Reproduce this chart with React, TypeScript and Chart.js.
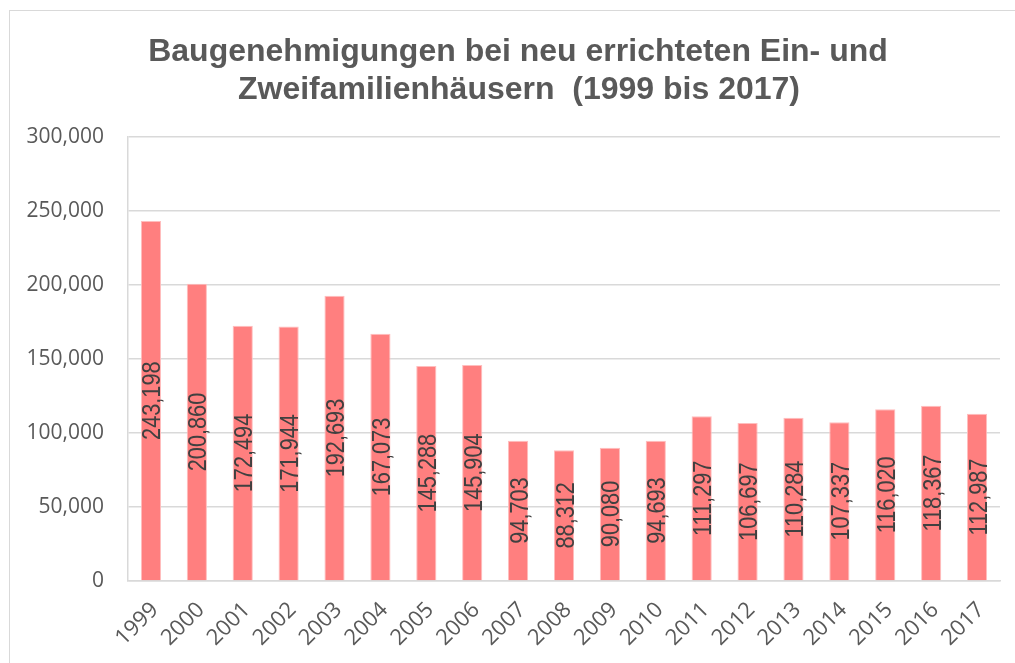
import React, { useEffect, useRef } from "react";
import { Chart, registerables } from "chart.js";

Chart.register(...registerables);

const years: string[] = [
  "1999", "2000", "2001", "2002", "2003", "2004", "2005", "2006", "2007", "2008",
  "2009", "2010", "2011", "2012", "2013", "2014", "2015", "2016", "2017",
];

const permits: number[] = [
  243198, 200860, 172494, 171944, 192693, 167073, 145288, 145904, 94703, 88312,
  90080, 94693, 111297, 106697, 110284, 107337, 116020, 118367, 112987,
];

const titleLines: string[] = [
  "Baugenehmigungen bei neu errichteten Ein- und",
  "Zweifamilienhäusern  (1999 bis 2017)",
];

const yMin = 0;
const yMax = 300000;
const yStep = 50000;

const fmt = (v: number) => Math.round(v).toLocaleString("en-US");

const titlePlugin = {
  id: "customTitle",
  afterDraw(chart: any) {
    const ctx = chart.ctx;
    ctx.save();
    ctx.font = 'bold 32px "Liberation Sans", Arial, sans-serif';
    ctx.fillStyle = "#595959";
    ctx.textAlign = "center";
    ctx.textBaseline = "alphabetic";
    ctx.fillText(titleLines[0], 518, 61);
    ctx.fillText(titleLines[1], 519, 99);
    ctx.restore();
  },
};

const barLabelPlugin = {
  id: "barLabels",
  afterDatasetsDraw(chart: any) {
    const ctx = chart.ctx;
    const meta = chart.getDatasetMeta(0);
    const values = chart.data.datasets[0].data as number[];
    meta.data.forEach((bar: any, i: number) => {
      const p = bar.getProps(["x", "y", "base"], true);
      const cy = (p.y + p.base) / 2;
      ctx.save();
      ctx.translate(p.x, cy);
      ctx.rotate(-Math.PI / 2);
      ctx.scale(0.82, 1);
      ctx.font = '26.5px "Liberation Sans", Arial, sans-serif';
      ctx.fillStyle = "#404040";
      ctx.textAlign = "center";
      ctx.textBaseline = "alphabetic";
      ctx.fillText(fmt(values[i]), 0, 9.5);
      ctx.restore();
    });
  },
};

export default function App() {
  const canvasRef = useRef<HTMLCanvasElement | null>(null);

  useEffect(() => {
    if (!canvasRef.current) return;
    const chart = new Chart(canvasRef.current, {
      type: "bar",
      data: {
        labels: years,
        datasets: [
          {
            data: permits,
            backgroundColor: "rgb(255,127,127)",
            borderColor: "rgba(255,190,190,1)",
            borderWidth: 1,
            barPercentage: 0.44,
            categoryPercentage: 1,
          },
        ],
      },
      options: {
        responsive: false,
        animation: false,
        layout: { padding: { top: 137, right: 15, left: 0, bottom: 0 } },
        plugins: {
          legend: { display: false },
          title: { display: false },
          tooltip: { enabled: false },
        },
        scales: {
          x: {
            afterFit(scale: any) {
              scale.height = 82;
            },
            grid: { display: false },
            border: { display: true, color: "#d9d9d9", width: 1.5 },
            ticks: {
              autoSkip: false,
              minRotation: 45,
              maxRotation: 45,
              padding: 8,
              labelOffset: 4,
              color: "#595959",
              font: { family: '"Open Sans", sans-serif', size: 22 },
            },
          },
          y: {
            min: yMin,
            max: yMax,
            afterFit(scale: any) {
              scale.width = 128;
            },
            grid: { color: "#d9d9d9", lineWidth: 1.5, drawTicks: false },
            border: { display: true, color: "#d9d9d9", width: 1.5 },
            ticks: {
              stepSize: yStep,
              padding: 24,
              color: "#595959",
              font: { family: '"Open Sans", sans-serif', size: 21 },
              callback: (v: any) => fmt(Number(v)),
            },
          },
        },
      },
      plugins: [titlePlugin, barLabelPlugin],
    });
    return () => chart.destroy();
  }, []);

  return (
    <>
      <div
        style={{
          position: "fixed",
          left: 0,
          top: 0,
          width: 1015,
          height: 663,
          background: "#ffffff",
        }}
      >
        <canvas ref={canvasRef} width={1015} height={663} style={{ display: "block" }} />
      </div>
      <div
        style={{
          position: "fixed",
          left: 9,
          top: 10,
          width: 1200,
          height: 800,
          borderLeft: "1.5px solid #d9d9d9",
          borderTop: "1.5px solid #d9d9d9",
          pointerEvents: "none",
        }}
      />
    </>
  );
}
